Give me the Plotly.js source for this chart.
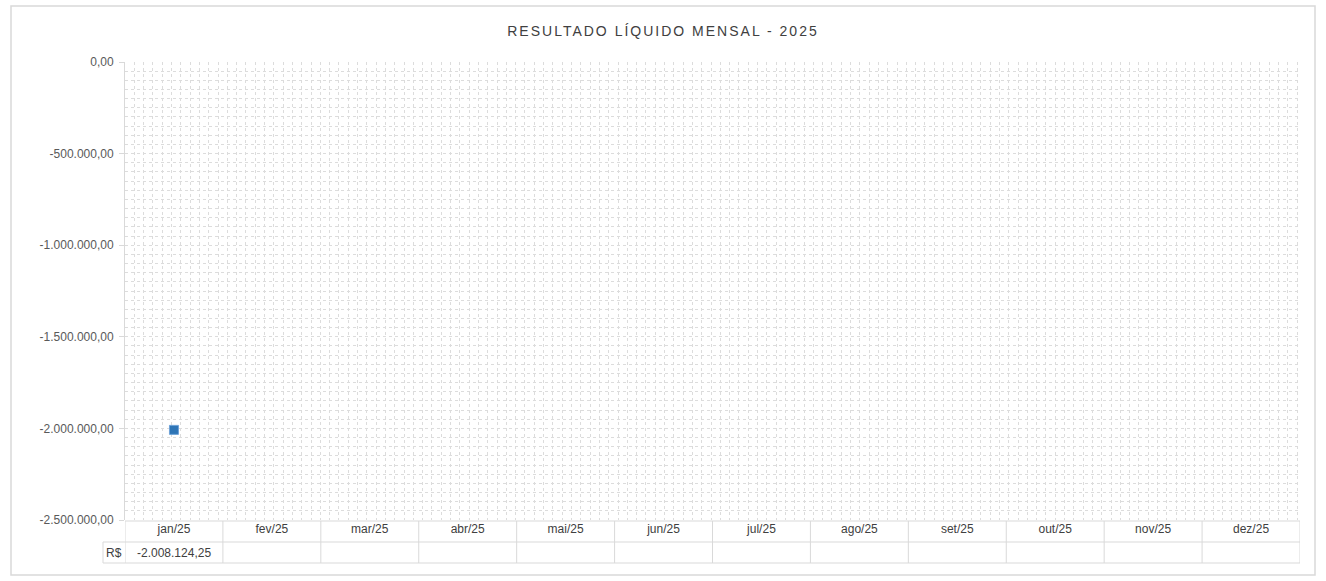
<!DOCTYPE html>
<html>
<head>
<meta charset="utf-8">
<script src="https://cdn.plot.ly/plotly-3.0.1.min.js"></script>
<style>
  html, body { margin: 0; padding: 0; background: #fff; }
  #chart { width: 1326px; height: 581px; }
</style>
</head>
<body>
<div id="chart"></div>
<script>
// ---- data ----
const months = ["jan/25", "fev/25", "mar/25", "abr/25", "mai/25", "jun/25",
                "jul/25", "ago/25", "set/25", "out/25", "nov/25", "dez/25"];
const values = [-2008124.25, null, null, null, null, null, null, null, null, null, null, null];
const yTickVals = [0, -500000, -1000000, -1500000, -2000000, -2500000];
const yTickText = ["0,00", "-500.000,00", "-1.000.000,00", "-1.500.000,00", "-2.000.000,00", "-2.500.000,00"];
const seriesLabel = "R$";
const chartTitle = "RESULTADO LÍQUIDO MENSAL - 2025";

function fmtBR(v) {
  if (v === null || v === undefined) return "";
  const neg = v < 0;
  const parts = Math.abs(v).toFixed(2).split(".");
  const intPart = parts[0].replace(/\B(?=(\d{3})+(?!\d))/g, ".");
  return (neg ? "-" : "") + intPart + "," + parts[1];
}

const idx = months.map((m, i) => i);
const FONT = "Liberation Sans, Arial, sans-serif";
const GRID = "#dcdcdc";
const BORDER = "#d9d9d9";

// plot area geometry in pixels (for converting table rows to paper units)
const W = 1326, H = 581;
const M = { l: 125, r: 26, t: 62, b: 61 };
const pw = W - M.l - M.r, ph = H - M.t - M.b;
const py = px => (H - M.b - px) / ph;      // pixel y -> paper y
const pxx = px => (px - M.l) / pw;         // pixel x -> paper x

const rowTop = py(521), rowMid = py(542), rowBot = py(563);

const shapes = [];
// outer chart border
shapes.push({ type: "rect", xref: "paper", yref: "paper",
  x0: pxx(11), x1: pxx(1315), y0: py(575), y1: py(6),
  line: { color: BORDER, width: 1.5 }, fillcolor: "rgba(0,0,0,0)", layer: "below" });
// table horizontal lines
[rowTop, rowMid, rowBot].forEach(y => {
  shapes.push({ type: "line", xref: "x", yref: "paper", x0: -0.5, x1: months.length - 0.5,
    y0: y, y1: y, line: { color: BORDER, width: 1 } });
});
// R$ cell
shapes.push({ type: "line", xref: "paper", yref: "paper", x0: pxx(103), x1: 0,
  y0: rowMid, y1: rowMid, line: { color: BORDER, width: 1 } });
shapes.push({ type: "line", xref: "paper", yref: "paper", x0: pxx(103), x1: 0,
  y0: rowBot, y1: rowBot, line: { color: BORDER, width: 1 } });
shapes.push({ type: "line", xref: "paper", yref: "paper", x0: pxx(103), x1: pxx(103),
  y0: rowBot, y1: rowMid, line: { color: BORDER, width: 1 } });
// column separators
for (let i = 0; i <= months.length; i++) {
  shapes.push({ type: "line", xref: "x", yref: "paper", x0: i - 0.5, x1: i - 0.5,
    y0: rowBot, y1: rowTop, line: { color: BORDER, width: 1 } });
}

const annotations = [];
annotations.push({ xref: "paper", yref: "paper", x: pxx(114), y: (rowMid + rowBot) / 2,
  text: seriesLabel, showarrow: false, xanchor: "center", yanchor: "middle",
  font: { family: FONT, size: 12, color: "#404040" } });
values.forEach((v, i) => {
  if (v === null) return;
  annotations.push({ xref: "x", yref: "paper", x: i, y: (rowMid + rowBot) / 2,
    text: fmtBR(v), showarrow: false, xanchor: "center", yanchor: "middle",
    font: { family: FONT, size: 12, color: "#404040" } });
});

const trace = {
  x: idx, y: values, type: "scatter", mode: "markers",
  marker: { symbol: "square", size: 9, color: "#2E75B6", line: { color: "#6FA3D8", width: 1 } },
  hoverinfo: "y", showlegend: false, cliponaxis: false
};

const layout = {
  width: W, height: H,
  margin: M,
  paper_bgcolor: "#fff", plot_bgcolor: "#fff",
  separators: ",.",
  font: { family: FONT, size: 12, color: "#595959" },
  title: { text: chartTitle, x: 0.5, xref: "container", xanchor: "center", y: 1 - 31 / H, yanchor: "middle",
           font: { family: FONT, size: 14, color: "#404040" } },
  showlegend: false,
  xaxis: {
    type: "linear", range: [-0.5, months.length - 0.5], fixedrange: true,
    tickmode: "array", tickvals: idx, ticktext: months,
    ticks: "", showgrid: false, zeroline: false, showline: false,
    tickfont: { family: FONT, size: 12, color: "#404040" },
    ticklabelstandoff: 0,
    minor: { tick0: -0.5, dtick: 0.095, showgrid: true, gridcolor: GRID, gridwidth: 1, griddash: "dot", ticks: "" }
  },
  yaxis: {
    range: [-2500000, 0], fixedrange: true,
    tickmode: "array", tickvals: yTickVals, ticktext: yTickText,
    ticks: "outside", ticklen: 5, tickcolor: BORDER,
    ticklabelstandoff: 3,
    showline: true, linecolor: BORDER, linewidth: 1,
    showgrid: true, gridcolor: GRID, griddash: "dot", gridwidth: 1,
    zeroline: false,
    tickfont: { family: FONT, size: 12, color: "#595959" },
    minor: { dtick: 50000, showgrid: true, gridcolor: GRID, gridwidth: 1, griddash: "dot", ticks: "" }
  },
  shapes: shapes,
  annotations: annotations
};

Plotly.newPlot("chart", [trace], layout, { displayModeBar: false, staticPlot: true }).then(() => {
  const t = document.querySelector(".gtitle");
  if (t) t.style.letterSpacing = "2px";
});
</script>
</body>
</html>
